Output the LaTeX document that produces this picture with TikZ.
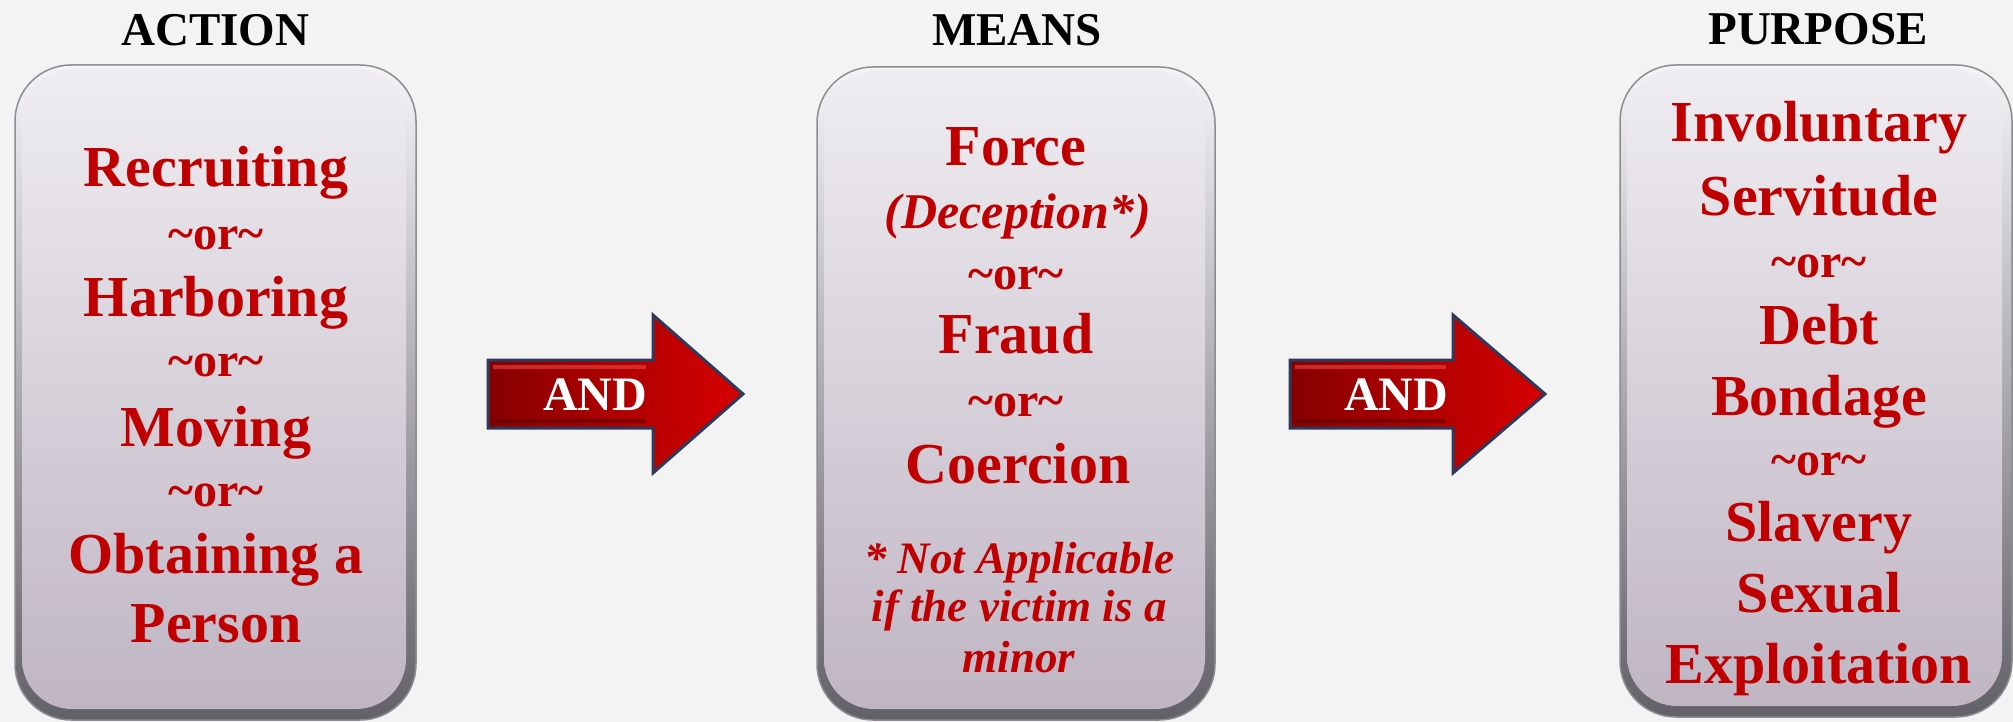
\documentclass[tikz,border=0pt]{standalone}
\usepackage{fontspec}
\setmainfont{Liberation Serif}
\usetikzlibrary{calc}
\definecolor{bgc}{HTML}{F3F3F3}
\definecolor{redtxt}{HTML}{C00000}
\definecolor{rimtop}{HTML}{F4F3F6}
\definecolor{rimbot}{HTML}{636168}
\definecolor{rimline}{HTML}{8E8C92}
\definecolor{facetop}{HTML}{EFEDF1}
\definecolor{facebot}{HTML}{BFB5C3}
\definecolor{arrowline}{HTML}{2E3A5C}
\definecolor{arrowdark}{HTML}{860000}
\definecolor{arrowbright}{HTML}{D60000}
\definecolor{bevlight}{HTML}{F04545}
\definecolor{bevdark}{HTML}{5E0000}
\tikzset{
  rimbox/.style={rounded corners=56pt, top color=rimtop, bottom color=rimbot, inner sep=0pt, draw=rimline, line width=1.5pt},
  facebox/.style={rounded corners=50pt, top color=facetop, bottom color=facebot, inner sep=0pt, draw=none},
  head/.style={font=\fontsize{47}{47}\selectfont\bfseries, text=black, anchor=base, inner sep=0pt},
  big/.style={font=\fontsize{58}{58}\selectfont\bfseries, text=redtxt, anchor=base, inner sep=0pt},
  ortxt/.style={font=\fontsize{48}{48}\selectfont\bfseries, text=redtxt, anchor=base, inner sep=0pt},
  deceptxt/.style={font=\fontsize{50}{50}\selectfont\bfseries\itshape, text=redtxt, anchor=base, inner sep=0pt},
  notetxt/.style={font=\fontsize{45}{45}\selectfont\bfseries\itshape, text=redtxt, anchor=base, inner sep=0pt},
  andtxt/.style={font=\fontsize{48}{48}\selectfont\bfseries, text=white, anchor=base, inner sep=0pt},
  blockarrow/.style={left color=arrowdark, right color=arrowbright, draw=arrowline, line width=3pt, line join=miter},
}
\newcommand{\orline}{\textasciitilde or\textasciitilde}
\begin{document}
\begin{tikzpicture}[x=1pt,y=-1pt]
\useasboundingbox (0,0) rectangle (2013,722);
\fill[bgc] (0,0) rectangle (2013,722);

% ---------- panels ----------
\node[rimbox, minimum width=401pt, minimum height=655pt] (actionrim) at (215.5,392.5) {};
\node[facebox, minimum width=384pt, minimum height=640pt] (action) at (214,389) {};
\node[rimbox, minimum width=398pt, minimum height=653pt] (meansrim) at (1016,393.5) {};
\node[facebox, minimum width=381pt, minimum height=638pt] (means) at (1014.5,390) {};
\node[rimbox, minimum width=392pt, minimum height=652pt] (purposerim) at (1816,391) {};
\node[facebox, minimum width=375pt, minimum height=637pt] (purpose) at (1814.5,387.5) {};

% ---------- headers ----------
\node[head] (hact) at (215.5,46) {ACTION};
\node[head] (hmea) at (1017,46) {MEANS};
\node[head] (hpur) at (1818,45) {PURPOSE};

% ---------- ACTION text ----------
\node[big]  (a1) at (216,187) {Recruiting};
\node[ortxt](a2) at (216,249) {\orline};
\node[big]  (a3) at (216,316) {Harboring};
\node[ortxt](a4) at (216,376) {\orline};
\node[big]  (a5) at (216,446) {Moving};
\node[ortxt](a6) at (216,506) {\orline};
\node[big]  (a7) at (216,573) {Obtaining a};
\node[big]  (a8) at (216,642) {Person};

% ---------- MEANS text ----------
\node[big]     (m1) at (1016,166) {Force};
\node[deceptxt](m2) at (1018,229) {(Deception*)};
\node[ortxt]   (m3) at (1016,289) {\orline};
\node[big]     (m4) at (1016,353) {Fraud};
\node[ortxt]   (m5) at (1016,416) {\orline};
\node[big]     (m6) at (1018,483) {Coercion};
\node[notetxt] (m7) at (1019,573) {* Not Applicable};
\node[notetxt] (m8) at (1019,621) {if the victim is a};
\node[notetxt] (m9) at (1019,672) {minor};

% ---------- PURPOSE text ----------
\node[big]  (p1) at (1819,142) {Involuntary};
\node[big]  (p2) at (1819,215) {Servitude};
\node[ortxt](p3) at (1819,277) {\orline};
\node[big]  (p4) at (1819,344) {Debt};
\node[big]  (p5) at (1819,415) {Bondage};
\node[ortxt](p6) at (1819,475) {\orline};
\node[big]  (p7) at (1819,541) {Slavery};
\node[big]  (p8) at (1819,612) {Sexual};
\node[big]  (p9) at (1819,683) {Exploitation};

% ---------- block arrows ----------
\path[blockarrow] (488,360) -- (653,360) -- (653,315) -- (743,394) -- (653,473) -- (653,428) -- (488,428) -- cycle;
\draw[bevlight, opacity=0.6, line width=4pt] (493,367) -- (646,367);
\draw[bevdark, opacity=0.6, line width=4pt] (493,421) -- (646,421);
\node[andtxt] (and1) at (595,410) {AND};

\path[blockarrow] (1290,360) -- (1453,360) -- (1453,315) -- (1545,394) -- (1453,473) -- (1453,428) -- (1290,428) -- cycle;
\draw[bevlight, opacity=0.6, line width=4pt] (1295,367) -- (1446,367);
\draw[bevdark, opacity=0.6, line width=4pt] (1295,421) -- (1446,421);
\node[andtxt] (and2) at (1396,410) {AND};
\end{tikzpicture}
\end{document}
